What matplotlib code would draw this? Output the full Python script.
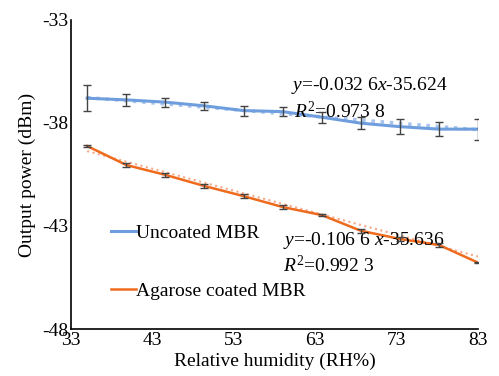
import numpy as np
import matplotlib
matplotlib.use('Agg')
from matplotlib import pyplot as plt

plt.rcParams['font.family'] = 'Liberation Serif'
plt.rcParams['mathtext.fontset'] = 'custom'
plt.rcParams['mathtext.rm'] = 'Liberation Serif'
plt.rcParams['mathtext.it'] = 'Liberation Serif:italic'
plt.rcParams['axes.unicode_minus'] = False

# relative humidity (RH%)
rh = [35, 39.8, 44.6, 49.4, 54.2, 59, 63.8, 68.6, 73.4, 78.2, 83]

# output power (dBm)
uncoated = [-36.80, -36.88, -36.99, -37.17, -37.40, -37.45, -37.72, -38.01, -38.18, -38.30, -38.30]
uncoated_err = [0.62, 0.28, 0.22, 0.18, 0.24, 0.23, 0.26, 0.29, 0.35, 0.33, 0.51]
coated = [-39.12, -40.04, -40.52, -41.06, -41.55, -42.08, -42.47, -43.23, -43.63, -43.92, -44.78]
coated_err = [0.06, 0.08, 0.08, 0.12, 0.10, 0.08, 0.06, 0.10, 0.08, 0.10, 0.04]

# linear fits from the figure
fit_slope = [-0.0326, -0.1066]
fit_icpt = [-35.624, -35.636]

blue = '#6e9ede'
orange = '#ee6a1c'

fig = plt.figure(figsize=(4.99, 3.76), dpi=100)
ax = fig.add_axes([0.142, 0.125, 0.816, 0.822])

x = np.array(rh)
ax.plot(x, fit_slope[0] * x + fit_icpt[0], ls=':', color='#a9c4ec', lw=2.5, zorder=2)
ax.plot(x, fit_slope[1] * x + fit_icpt[1], ls=':', color='#f4a98a', lw=1.5, zorder=2)

ax.plot(rh, uncoated, color=blue, lw=2.2, label='Uncoated MBR', zorder=3)
ax.plot(rh, coated, color=orange, lw=1.8, label='Agarose coated MBR', zorder=3)
ax.errorbar(rh, uncoated, yerr=uncoated_err, fmt='none', ecolor='#444444', elinewidth=1, capsize=3, zorder=4)
ax.errorbar(rh, coated, yerr=coated_err, fmt='none', ecolor='#444444', elinewidth=1, capsize=3, zorder=4)

ax.set_xlim(33, 83)
ax.set_ylim(-48, -33)
ax.set_xticks([33, 43, 53, 63, 73, 83])
ax.set_yticks([-48, -43, -38, -33])
ax.tick_params(length=0, labelsize=14, pad=2)
for s in ['top', 'right']:
    ax.spines[s].set_visible(False)
ax.spines['left'].set_linewidth(1.2)
ax.spines['bottom'].set_linewidth(1.2)

ax.set_xlabel('Relative humidity (RH%)', fontsize=14, labelpad=3)
ax.set_ylabel('Output power (dBm)', fontsize=14, labelpad=4)

ax.text(60.0, -36.2, r'$y$=-0.032 6$x$-35.624', fontsize=14, va='center')
ax.text(60.4, -37.45, r'$R^{2}$=0.973 8', fontsize=14, va='center')
ax.text(59.0, -43.7, r'$y$=-0.106 6 $x$-35.636', fontsize=14, va='center')
ax.text(59.0, -44.9, r'$R^{2}$=0.992 3', fontsize=14, va='center')

ax.legend(loc='upper left', bbox_to_anchor=(0.08, 0.365), frameon=False, fontsize=14,
          handlelength=1.25, handletextpad=0.05, labelspacing=2.1, borderaxespad=0)

fig.savefig('out.png', dpi=100)
